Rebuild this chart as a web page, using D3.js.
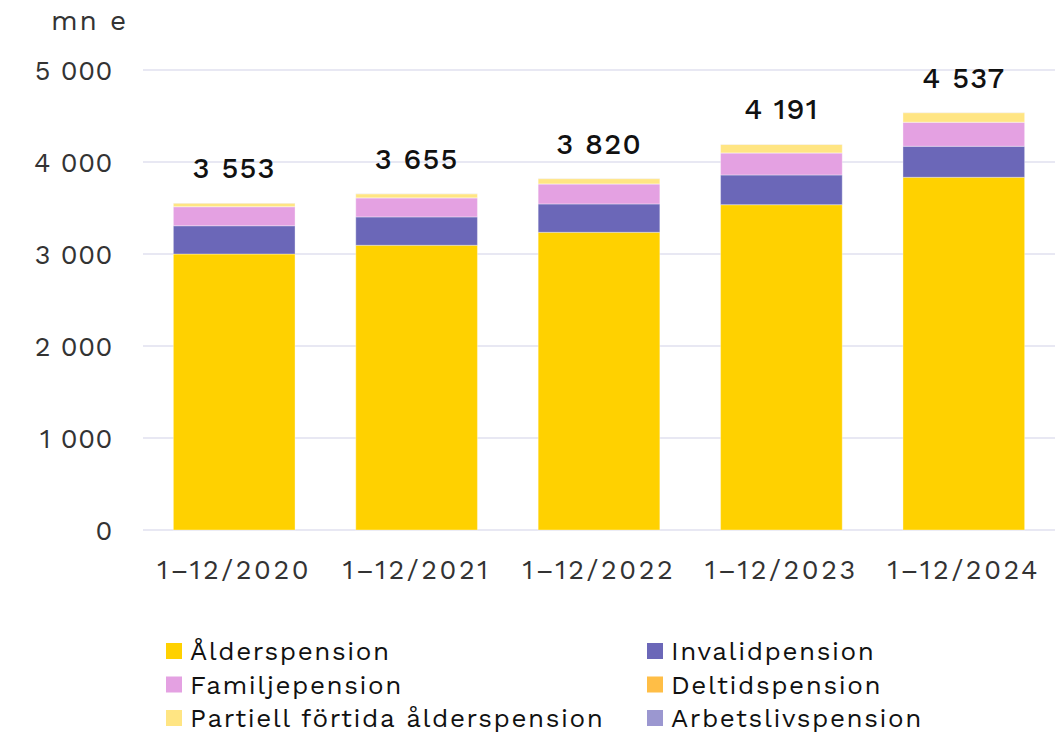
<!DOCTYPE html>
<html>
<head>
<meta charset="utf-8">
<script src="https://cdn.jsdelivr.net/npm/d3@7"></script>
<style>
  body { margin: 0; background: #fff; }
  text { font-family: "Work Sans", Inter, "Open Sans", sans-serif; }
</style>
</head>
<body>
<svg id="chart" width="1061" height="734"></svg>
<script>
  var years = ["1–12/2020", "1–12/2021", "1–12/2022", "1–12/2023", "1–12/2024"];
  var alder = [3000, 3095, 3236, 3536, 3834];
  var invalid = [307, 308, 308, 323, 337];
  var familj = [207, 207, 217, 239, 261];
  var deltid = [1, 1, 1, 1, 1];
  var partiell = [37, 43, 57, 91, 103];
  var arbetsliv = [1, 1, 1, 1, 1];
  var yTicks = [0, 1000, 2000, 3000, 4000, 5000];

  var seriesNames = ["Ålderspension", "Invalidpension", "Familjepension",
    "Deltidspension", "Partiell förtida ålderspension", "Arbetslivspension"];
  var seriesValues = [alder, invalid, familj, deltid, partiell, arbetsliv];
  var colors = ["#FFD100", "#6B67B8", "#E4A1E2", "#FFBE46", "#FFE583", "#9B97D0"];

  var rows = years.map(function(y, i) {
    var r = { year: y };
    seriesNames.forEach(function(n, j) { r[n] = seriesValues[j][i]; });
    return r;
  });

  var fmt = function(d) { return d3.format(",")(d).replace(/,/g, " "); };

  var svg = d3.select("#chart");

  var x = d3.scaleBand().domain(years).range([143, 1055]).paddingInner(0.333).paddingOuter(0.1665);
  var y = d3.scaleLinear().domain([0, 5000]).range([530, 70]);

  // grid
  svg.append("g").selectAll("line").data(yTicks).enter()
    .append("line")
    .attr("x1", 143).attr("x2", 1055)
    .attr("y1", function(d) { return y(d); })
    .attr("y2", function(d) { return y(d); })
    .attr("stroke", "#e1e1ef")
    .attr("stroke-width", 1.5);

  // y axis labels
  var yAxis = d3.axisLeft(y).tickValues(yTicks).tickSize(0).tickPadding(0).tickFormat(fmt);
  var ya = svg.append("g").attr("transform", "translate(113,0)").call(yAxis);
  ya.select(".domain").remove();
  ya.selectAll("text")
    .attr("dy", "0.35em")
    .style("font-size", "27px")
    .style("letter-spacing", "0.6px")
    .style("fill", "#333")
    .style("font-family", '"Work Sans", Inter, "Open Sans", sans-serif');

  svg.append("text")
    .attr("x", 51).attr("y", 30)
    .text("mn e")
    .style("font-size", "28px")
    .style("letter-spacing", "1.8px")
    .style("fill", "#333");

  // bars
  var stack = d3.stack().keys(seriesNames)(rows);
  svg.append("g").selectAll("g").data(stack).enter()
    .append("g")
    .attr("fill", function(d, i) { return colors[i]; })
    .selectAll("rect").data(function(d) { return d; }).enter()
    .append("rect")
    .attr("x", function(d) { return x(d.data.year); })
    .attr("width", x.bandwidth())
    .attr("y", function(d) { return y(d[1]); })
    .attr("height", function(d) { return y(d[0]) - y(d[1]); })
    .attr("stroke", "rgba(255,255,255,0.35)")
    .attr("stroke-width", 1);

  // totals
  svg.append("g").selectAll("text").data(rows).enter()
    .append("text")
    .attr("x", function(d) { return x(d.year) + x.bandwidth() / 2; })
    .attr("y", function(d) {
      var t = d3.sum(seriesNames, function(n) { return d[n]; });
      return y(t) - 25;
    })
    .attr("text-anchor", "middle")
    .style("font-size", "29px")
    .style("font-weight", "500")
    .style("letter-spacing", "1.2px")
    .style("fill", "#111")
    .text(function(d) {
      return fmt(d3.sum(seriesNames, function(n) { return d[n]; }));
    });

  // x axis labels
  var xAxis = d3.axisBottom(x).tickSize(0).tickPadding(0);
  var xa = svg.append("g").attr("transform", "translate(0,560)").call(xAxis);
  xa.select(".domain").remove();
  xa.selectAll("text")
    .attr("dy", "0.71em")
    .style("font-size", "27px")
    .style("letter-spacing", "2.6px")
    .style("fill", "#333")
    .style("font-family", '"Work Sans", Inter, "Open Sans", sans-serif');

  // legend
  var legend = svg.append("g").selectAll("g").data(seriesNames).enter()
    .append("g")
    .attr("transform", function(d, i) {
      return "translate(" + (i % 2 === 0 ? 166 : 647) + "," + (651 + Math.floor(i / 2) * 33.5) + ")";
    });
  legend.append("rect")
    .attr("x", 0).attr("y", -8)
    .attr("width", 16).attr("height", 16)
    .attr("fill", function(d, i) { return colors[i]; });
  legend.append("text")
    .attr("x", 24).attr("y", 0).attr("dy", "0.35em")
    .style("font-size", "26px")
    .style("letter-spacing", "1.6px")
    .style("fill", "#111")
    .text(function(d) { return d; });
</script>
</body>
</html>
